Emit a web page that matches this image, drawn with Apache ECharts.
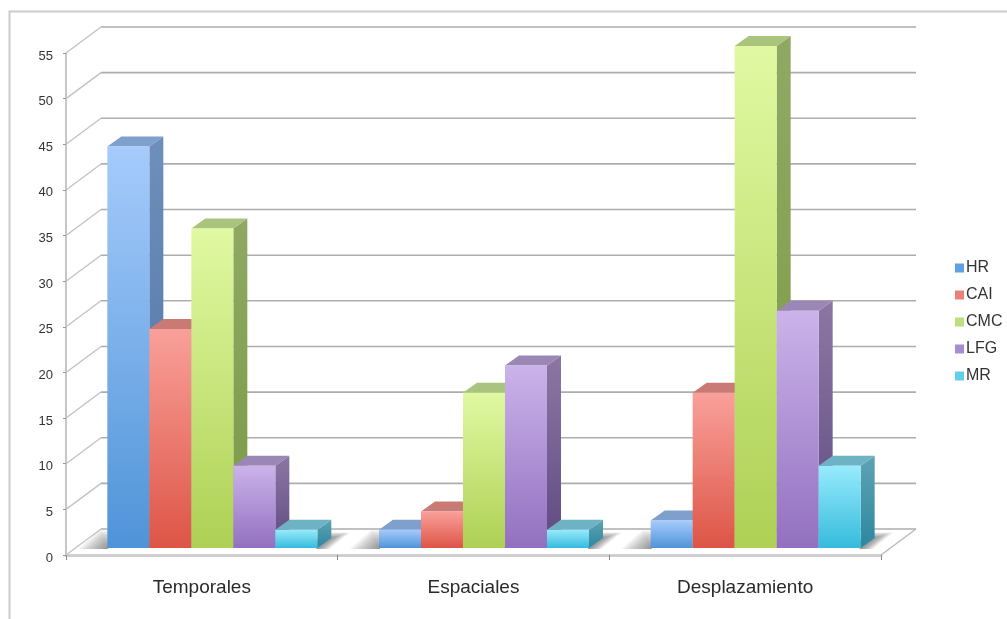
<!DOCTYPE html>
<html><head><meta charset="utf-8">
<style>html,body{margin:0;padding:0;background:#fff}#c{width:1007px;height:619px}</style>
<script src="https://cdn.jsdelivr.net/npm/echarts@6/dist/echarts.min.js"></script>
</head><body><div id="c"></div>
<script>
const categories = ['Temporales','Espaciales','Desplazamiento'];
const seriesNames = ['HR','CAI','CMC','LFG','MR'];
const HR  = [44, 2, 3];
const CAI = [24, 4, 17];
const CMC = [35, 17, 55];
const LFG = [9, 20, 26];
const MR  = [2, 2, 9];
const allValues = [HR, CAI, CMC, LFG, MR];
const yTicks = [0,5,10,15,20,25,30,35,40,45,50,55];
const palette = [
  {legend:'#5f9fe3', top:'#a6cbfc', bottom:'#4f94d8', cap:'#7f9fcc', sideTop:'#6f8fbb', sideBottom:'#4a72a3'},
  {legend:'#e9807a', top:'#f9a09a', bottom:'#dd5546', cap:'#c97a75', sideTop:'#bd6e69', sideBottom:'#97423a'},
  {legend:'#bde07e', top:'#e0f9a2', bottom:'#aed054', cap:'#a9c47c', sideTop:'#8fa963', sideBottom:'#7a9a44'},
  {legend:'#a78dd0', top:'#cbb3ea', bottom:'#9270c0', cap:'#9b87b5', sideTop:'#8c77a3', sideBottom:'#5f4a82'},
  {legend:'#5fd0ea', top:'#97ebfc', bottom:'#35bbdc', cap:'#6eb3c4', sideTop:'#5fa3b4', sideBottom:'#2c879f'}
];
const DX = 35, DY = 26, BASE = 7, BAR_DX = 14, BAR_DY = 10, BAR_FRAC = 0.1546, SHIFT = 10.5;
const SHADOW_LAYERS = [1,2,3,4,5,6,7,8];

function grad(c1, c2) {
  return new echarts.graphic.LinearGradient(0, 0, 0, 1, [{offset:0,color:c1},{offset:1,color:c2}]);
}
function gridItem(params, api) {
  const cs = params.coordSys, v = api.value(0), y = api.coord([0, v])[1];
  const L = cs.x, R = cs.x + cs.width;
  const children = [
    {type:'line', shape:{x1:L,y1:y,x2:L+DX,y2:y-DY}, style:{stroke:'#c2c2c2',lineWidth:1.3}},
    {type:'line', shape:{x1:L+DX,y1:y-DY,x2:R+DX,y2:y-DY}, style:{stroke:'#adadad',lineWidth:1.6}}
  ];
  if (v === 0) children.push({type:'line', shape:{x1:R,y1:y,x2:R+DX,y2:y-DY}, style:{stroke:'#b8b8b8',lineWidth:1.3}});
  return {type:'group', silent:true, children};
}
function shadowItem(params, api) {
  const c = api.coord([api.value(0), 0]), band = api.size([1,0])[0], w = band*BAR_FRAC;
  const cx = c[0] + SHIFT, x0 = cx - 2.5*w, x1 = cx + 2.5*w, b = c[1] - BASE;
  const children = [];
  const style = {fill:'rgba(70,70,70,0.085)'};
  SHADOW_LAYERS.forEach(k => {
    children.push({type:'polygon', shape:{points:[[x0+1,b+1],[x0-3.6*k,b+1],[x0-1*k,b-2.2*k],[x0+1,b-2.2*k]]}, style:style});
    children.push({type:'polygon', shape:{points:[[x1-1,b+1],[x1+1.5*k,b+1],[x1+14+2.3*k,b-10-0.7*k],[x1+14,b-10-0.7*k],[x1-1,b-8]]}, style:style});
  });
  return {type:'group', silent:true, children};
}
function barRenderer(i) {
  const p = palette[i];
  return function (params, api) {
    const cat = api.value(0), val = api.value(1);
    const c = api.coord([cat, val]), c0 = api.coord([cat, 0]);
    const band = api.size([1,0])[0], w = band*BAR_FRAC;
    const x = c[0] + SHIFT + (i-2.5)*w, top = c[1]-BASE, bot = c0[1]-BASE;
    return {type:'group', silent:true, children:[
      {type:'polygon', shape:{points:[[x+w,top],[x+w+BAR_DX,top-BAR_DY],[x+w+BAR_DX,bot-BAR_DY],[x+w,bot]]},
        style:{fill:grad(p.sideTop,p.sideBottom)}},
      {type:'polygon', shape:{points:[[x,top],[x+BAR_DX,top-BAR_DY],[x+w+BAR_DX,top-BAR_DY],[x+w,top]]},
        style:{fill:p.cap}},
      {type:'rect', shape:{x:x,y:top,width:w,height:bot-top}, style:{fill:grad(p.top,p.bottom)}}
    ]};
  };
}
const series = [
  {type:'custom', name:'grid', coordinateSystem:'cartesian2d', clip:false, z:1,
   data:yTicks.map(v=>[v]), encode:{y:0}, renderItem:gridItem, silent:true},
  {type:'custom', name:'shadow', coordinateSystem:'cartesian2d', clip:false, z:2,
   data:categories.map((c,i)=>[i]), encode:{x:0}, renderItem:shadowItem, silent:true}
];
seriesNames.forEach((n,i)=>series.push({
  type:'custom', name:n, coordinateSystem:'cartesian2d', clip:false, z:3+i,
  itemStyle:{color:palette[i].legend},
  data:allValues[i].map((v,k)=>[k,v]), encode:{x:0,y:1}, renderItem:barRenderer(i)
}));
const chart = echarts.init(document.getElementById('c'), null, {renderer:'canvas'});
chart.setOption({
  animation:false,
  backgroundColor:'#fff',
  textStyle:{fontFamily:'Liberation Sans'},
  grid:{left:66,right:126,top:53,bottom:64,containLabel:false},
  graphic:[{type:'polyline', shape:{points:[[9.5,619],[9.5,11.5],[1007,11.5]]}, style:{stroke:'#cccccc',lineWidth:2,fill:null}, silent:true}],
  legend:{
    show:true, orient:'vertical', left:950, top:254, itemWidth:9, itemHeight:9, itemGap:9,
    icon:'rect', selectedMode:false, data:seriesNames, itemStyle:{borderWidth:0},
    textStyle:{fontSize:16,color:'#333',fontFamily:'Liberation Sans',padding:[0,0,0,-3],lineHeight:18}
  },
  xAxis:{type:'category', data:categories, boundaryGap:true,
    axisLine:{show:true,lineStyle:{color:'#cfcfcf',width:3}},
    axisTick:{show:true,length:5,lineStyle:{color:'#888',width:1}},
    axisLabel:{fontSize:19,color:'#2a2a2a',margin:23,fontFamily:'Liberation Sans'},
    splitLine:{show:false}},
  yAxis:{type:'value', min:0, max:55, interval:5,
    axisLine:{show:true,onZero:false,lineStyle:{color:'#b4b4b4',width:1.5}},
    axisTick:{show:true,length:3,lineStyle:{color:'#999'}},
    axisLabel:{fontSize:13,color:'#333',margin:13,verticalAlign:'top',lineHeight:6,fontFamily:'Liberation Sans'},
    splitLine:{show:false}},
  tooltip:{show:false},
  series:series
});
</script></body></html>
